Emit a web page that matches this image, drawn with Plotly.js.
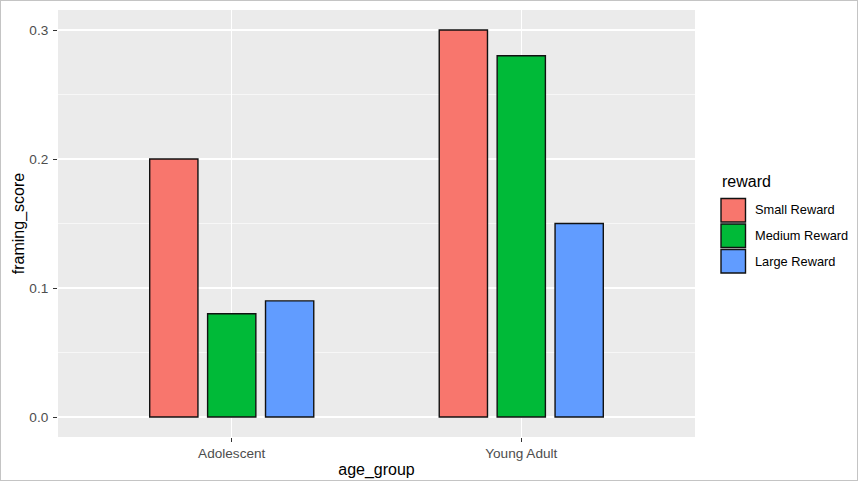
<!DOCTYPE html>
<html>
<head>
<meta charset="utf-8">
<script src="https://cdn.plot.ly/plotly-3.0.1.min.js"></script>
<style>
html,body{margin:0;padding:0;background:#fff;}
#chart{width:858px;height:481px;}
#frame{position:fixed;left:0;top:0;width:856px;height:479px;border:1px solid #c4c4c4;pointer-events:none;}
</style>
</head>
<body>
<div id="chart"></div>
<div id="frame"></div>
<script>
const categories = ['Adolescent', 'Young Adult'];
const seriesNames = ['Small Reward', 'Medium Reward', 'Large Reward'];
const smallReward = [0.20, 0.30];
const mediumReward = [0.08, 0.28];
const largeReward = [0.09, 0.15];
const yTickValues = [0.0, 0.1, 0.2, 0.3];
const yTickLabels = ['0.0', '0.1', '0.2', '0.3'];

const colors = ['#F8766D', '#00BA38', '#619CFF'];
const values = [smallReward, mediumReward, largeReward];

const traces = seriesNames.map((name, i) => ({
  type: 'bar',
  name: name,
  x: categories,
  y: values[i],
  marker: {color: colors[i], line: {color: '#111111', width: 1.4}},
  hoverinfo: 'x+y+name',
  showlegend: false
}));

// plot area geometry (pixels) used for the custom ggplot-style legend
const W = 858, H = 481, mL = 58, mR = 163, mT = 10, mB = 44;
const pw = W - mL - mR, ph = H - mT - mB;
const px = x => (x - mL) / pw;
const py = y => (H - mB - y) / ph;

const shapes = [];
const annotations = [];
annotations.push({
  xref: 'paper', yref: 'paper', x: px(720), y: py(181),
  xanchor: 'left', yanchor: 'middle', showarrow: false,
  text: 'reward', font: {size: 16, color: '#000'}
});
seriesNames.forEach((name, i) => {
  const top = 198 + i * 25.5;
  shapes.push({
    type: 'rect', xref: 'paper', yref: 'paper',
    x0: px(721), x1: px(745.5), y0: py(top + 24), y1: py(top + 0.5),
    fillcolor: colors[i], line: {color: '#111', width: 1.4}
  });
  annotations.push({
    xref: 'paper', yref: 'paper', x: px(753), y: py(top + 12),
    xanchor: 'left', yanchor: 'middle', showarrow: false,
    text: name, font: {size: 12.8, color: '#000'}
  });
});

const layout = {
  width: W,
  height: H,
  margin: {l: mL, r: mR, t: mT, b: mB, pad: 0},
  paper_bgcolor: '#ffffff',
  plot_bgcolor: '#EBEBEB',
  font: {family: 'Liberation Sans, Arial, sans-serif', color: '#000'},
  barmode: 'group',
  bargap: 0.4,
  bargroupgap: 0.167,
  showlegend: false,
  shapes: shapes,
  annotations: annotations,
  xaxis: {
    type: 'category',
    range: [-0.6, 1.6],
    showgrid: true, gridcolor: '#ffffff', gridwidth: 1.4,
    zeroline: false, showline: false,
    ticks: 'outside', ticklen: 4, tickcolor: '#333333', tickwidth: 1,
    tickfont: {size: 13.6, color: '#4D4D4D'},
    title: {text: 'age_group', font: {size: 16, color: '#000'}, standoff: 3}
  },
  yaxis: {
    range: [-0.0155, 0.3155],
    tickvals: yTickValues,
    ticktext: yTickLabels,
    showgrid: true, gridcolor: '#ffffff', gridwidth: 1.4,
    minor: {dtick: 0.05, tick0: 0, showgrid: true, gridcolor: '#ffffff', gridwidth: 0.6, ticks: ''},
    zeroline: false, showline: false,
    ticks: 'outside', ticklen: 4, tickcolor: '#333333', tickwidth: 1,
    tickfont: {size: 13.6, color: '#4D4D4D'},
    ticklabelstandoff: 2,
    title: {text: 'framing_score', font: {size: 16, color: '#000'}, standoff: 0}
  }
};

Plotly.newPlot('chart', traces, layout, {displayModeBar: false, staticPlot: true});
</script>
</body>
</html>
